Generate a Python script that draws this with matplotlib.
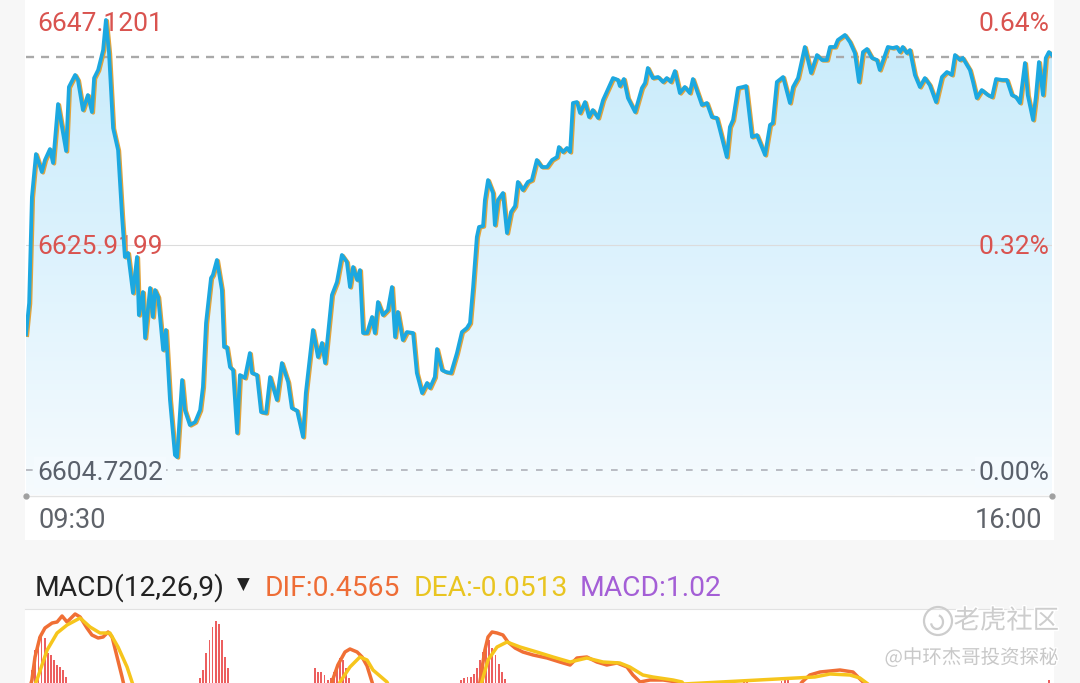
import numpy as np
import matplotlib
matplotlib.use("Agg")
import matplotlib.pyplot as plt
from matplotlib.patches import Rectangle, Polygon, Ellipse, Arc
from matplotlib.lines import Line2D
from matplotlib.transforms import blended_transform_factory, offset_copy
from matplotlib.colors import LinearSegmentedColormap
import matplotlib.patheffects as pe

plt.rcParams['lines.scale_dashes'] = False

# ---------------- data ----------------
minutes = [0.0, 1.0, 1.9, 3.2, 5.1, 6.1, 7.7, 8.7, 10.3, 12.9, 13.8, 15.8, 16.7, 18.3, 19.9, 21.2, 21.9,
           23.2, 24.8, 25.7, 26.7, 28.0, 29.6, 30.9, 31.8, 32.8, 34.4, 35.7, 36.3, 37.6, 38.3, 39.9, 40.8,
           41.5, 42.5, 44.1, 45.0, 46.3, 47.9, 48.6, 50.2, 51.1, 52.7, 54.4, 56.0, 56.9, 57.9, 59.5, 60.1,
           61.4, 63.0, 63.7, 64.6, 65.6, 66.6, 67.9, 68.8, 70.4, 72.0, 72.7, 74.3, 75.6, 77.2, 78.5, 80.7,
           82.3, 84.3, 85.5, 87.2, 89.1, 90.0, 92.3, 93.9, 95.2, 96.2, 98.4, 100.0, 101.6, 103.2, 104.2,
           105.2, 106.5, 107.4, 108.4, 109.7, 111.3, 112.2, 113.2, 114.8, 116.4, 117.7, 118.7, 119.6, 121.2,
           122.5, 124.5, 125.7, 127.4, 129.0, 129.9, 131.5, 132.2, 133.8, 135.1, 136.7, 138.6, 140.2, 141.8,
           142.8, 143.8, 145.0, 145.7, 147.0, 147.6, 148.6, 150.2, 150.8, 151.8, 153.4, 154.7, 156.0, 157.3,
           158.2, 159.8, 161.4, 162.7, 164.3, 165.9, 167.6, 169.2, 170.8, 171.4, 172.7, 174.0, 175.0, 175.9,
           177.2, 178.2, 179.8, 181.1, 182.3, 184.0, 185.6, 187.8, 188.8, 190.4, 191.0, 192.3, 193.6, 195.9,
           198.1, 199.1, 200.0, 201.6, 203.3, 204.9, 206.1, 207.4, 208.7, 210.3, 211.9, 213.5, 214.5, 217.4,
           219.0, 220.6, 222.2, 223.2, 225.4, 226.4, 227.4, 229.0, 230.6, 231.6, 233.5, 235.1, 237.7, 239.3,
           240.2, 241.5, 243.5, 245.7, 246.7, 248.3, 250.5, 252.5, 254.4, 256.0, 257.6, 258.6, 260.2, 261.1,
           263.4, 265.0, 266.6, 267.9, 269.2, 270.5, 272.1, 273.7, 274.6, 277.2, 278.8, 280.1, 281.1, 282.0,
           283.3, 284.3, 285.9, 287.5, 289.1, 290.7, 292.7, 294.6, 296.2, 297.8, 298.8, 300.4, 301.3, 303.6,
           304.6, 305.8, 307.4, 309.4, 310.7, 312.0, 313.9, 315.5, 317.1, 318.4, 319.7, 321.3, 322.2, 323.9,
           324.8, 325.8, 327.1, 328.0, 329.0, 330.0]
prices = [6617.50, 6620.45, 6630.44, 6634.49, 6632.80, 6633.93, 6634.96, 6633.65, 6639.20, 6634.78, 6640.81,
          6641.94, 6641.47, 6638.64, 6640.05, 6638.45, 6641.65, 6642.41, 6644.29, 6647.12, 6644.01, 6636.94,
          6634.87, 6628.56, 6624.79, 6625.17, 6621.40, 6624.79, 6619.32, 6621.49, 6617.16, 6621.87, 6619.14,
          6621.68, 6621.02, 6616.03, 6617.91, 6611.32, 6606.13, 6605.94, 6613.20, 6610.37, 6608.96, 6609.24,
          6610.37, 6612.54, 6618.57, 6622.81, 6623.09, 6624.51, 6621.68, 6616.31, 6616.31, 6614.42, 6614.14,
          6608.21, 6613.67, 6613.39, 6615.74, 6613.86, 6613.67, 6610.18, 6610.09, 6613.48, 6611.32, 6614.80,
          6613.01, 6610.56, 6610.30, 6607.83, 6611.97, 6617.91, 6615.37, 6616.69, 6614.80, 6621.21, 6622.43,
          6624.98, 6624.32, 6621.96, 6623.85, 6622.62, 6623.56, 6617.63, 6617.63, 6619.14, 6617.63, 6620.55,
          6619.32, 6619.80, 6621.96, 6617.25, 6619.61, 6616.97, 6617.72, 6617.63, 6613.86, 6611.97, 6612.92,
          6612.45, 6613.48, 6616.12, 6614.14, 6613.95, 6613.86, 6615.74, 6617.72, 6618.10, 6618.57, 6621.96,
          6626.67, 6627.62, 6627.71, 6630.16, 6632.04, 6630.82, 6627.80, 6630.16, 6630.82, 6627.05, 6629.03,
          6629.59, 6631.86, 6631.10, 6631.86, 6632.04, 6633.93, 6633.27, 6633.27, 6633.93, 6634.21, 6635.15,
          6634.68, 6635.06, 6634.68, 6639.30, 6639.39, 6638.36, 6639.39, 6637.98, 6638.64, 6637.89, 6639.58,
          6640.99, 6641.65, 6641.47, 6640.90, 6641.56, 6639.77, 6638.45, 6640.71, 6641.18, 6642.60, 6641.65,
          6641.75, 6641.28, 6641.65, 6641.28, 6642.31, 6640.24, 6640.81, 6640.24, 6641.56, 6639.11, 6639.30,
          6637.98, 6637.89, 6636.76, 6634.21, 6637.04, 6637.70, 6640.71, 6640.81, 6640.90, 6636.10, 6636.28,
          6634.40, 6637.23, 6637.41, 6641.28, 6641.75, 6639.30, 6640.81, 6641.65, 6644.58, 6642.13, 6643.82,
          6643.35, 6643.35, 6644.58, 6644.58, 6645.23, 6645.71, 6645.05, 6644.01, 6641.28, 6644.10, 6644.39,
          6643.54, 6643.35, 6642.41, 6644.58, 6644.48, 6644.58, 6644.10, 6644.58, 6644.01, 6644.29, 6641.94,
          6640.81, 6641.65, 6640.99, 6639.39, 6641.75, 6642.22, 6641.94, 6643.82, 6643.35, 6643.54, 6642.41,
          6641.28, 6639.77, 6640.52, 6640.05, 6639.86, 6641.56, 6641.47, 6641.47, 6640.05, 6639.86, 6639.30,
          6643.07, 6640.05, 6637.70, 6639.86, 6643.16, 6640.05, 6643.54, 6644.10, 6643.82]

price_levels = [6647.1201, 6625.9199, 6604.7202]
prev_close = 6604.7202
ref_line = 6643.63
time_labels = ["09:30", "16:00"]
session_minutes = 330

# MACD panel (only the top of the panel is visible)
dif_x = [0.0, 1.9, 2.9, 4.5, 6.1, 8.4, 10.0, 11.6, 13.2, 15.8, 17.4, 19.6, 21.2, 23.2, 24.8, 26.4, 27.7,
         29.3, 30.9, 32.5, 96.5, 98.4, 100.3, 102.6, 104.2, 106.5, 108.1, 109.7, 111.3, 112.9, 144.4,
         146.0, 147.6, 148.6, 149.9, 151.5, 153.4, 155.0, 157.3, 159.8, 163.1, 167.6, 171.7, 175.0, 177.2,
         180.4, 183.6, 186.8, 190.1, 193.3, 195.2, 197.5, 200.7, 204.9, 209.4, 211.9, 247.3, 249.6, 252.1,
         255.4, 261.8, 266.0, 269.2, 271.4, 330.0]
dif_v = [1.0, 2.15, 3.3, 4.3, 4.75, 5.0, 5.05, 5.35, 5.05, 5.45, 5.3, 4.75, 4.4, 4.25, 4.3, 4.55, 4.3,
         3.3, 2.3, 1.2, 1.2, 2.05, 2.9, 3.55, 3.7, 3.55, 3.3, 2.85, 2.05, 1.2, 1.2,
         2.05, 3.65, 4.3, 4.55, 4.5, 4.4, 4.05, 3.75, 3.55, 3.4, 3.25, 3.05, 2.9, 3.25,
         3.3, 3.05, 2.9, 3.0, 2.8, 2.4, 2.05, 2.15, 2.15, 2.05, 1.5, 1.5, 2.05, 2.4,
         2.55, 2.65, 2.55, 2.05, 1.5, 1.2]
dea_x = [0.0, 3.5, 6.8, 10.0, 13.2, 17.4, 20.6, 23.8, 27.0, 29.6, 32.5, 34.1, 36.0, 99.1, 101.0, 104.2,
         107.4, 109.7, 111.6, 116.1, 118.7, 144.7, 146.6, 148.6, 151.5, 154.7, 158.9, 164.3, 169.5, 175.0,
         180.4, 185.6, 191.0, 194.2, 198.4, 201.6, 208.1, 211.0, 213.5, 248.3, 250.5, 253.7, 258.6, 265.0,
         268.2, 270.8, 273.0, 330.0]
dea_v = [0.8, 2.15, 3.65, 4.5, 4.9, 5.25, 4.8, 4.5, 4.5, 3.8, 2.8, 2.05, 1.2, 1.2, 2.05, 2.8,
         3.3, 3.15, 2.65, 2.05, 1.2, 1.2, 2.05, 3.15, 3.8, 4.05, 3.8, 3.55, 3.3, 3.05,
         3.25, 3.05, 3.0, 2.8, 2.4, 2.3, 2.15, 2.05, 1.5, 1.5, 1.95, 2.3, 2.45, 2.4,
         2.25, 1.95, 1.5, 1.2]
hist_x = list(range(2, 14)) + list(range(56, 66)) + list(range(93, 105)) + list(range(140, 155)) + \
         [231, 232, 243, 244, 245, 329]
hist_v = [2.65, 3.65, 4.3, 4.4, 4.25, 3.5, 3.4, 3.15, 2.9, 2.8, 2.65, 2.3,
          2.25, 2.65, 3.5, 4.15, 4.8, 5.1, 4.95, 4.15, 3.3, 2.75,
          2.75, 2.55, 2.55, 2.4, 2.15, 2.25, 2.55, 2.9, 3.25, 3.15, 2.75, 2.25,
          2.15, 2.25, 2.3, 2.3, 2.45, 2.75, 3.15, 3.55, 3.9, 4.15, 3.75, 3.4, 2.95, 2.55, 2.2,
          2.1, 2.15, 2.1, 2.3, 2.15, 2.15]
macd_params = "MACD(12,26,9)"
dif_last, dea_last, macd_last = 0.4565, -0.0513, 1.02

# ---------------- figure ----------------
W, H = 1080, 683
fig = plt.figure(figsize=(W / 100, H / 100), dpi=100, facecolor="#f7f7f7")


def fx(px):
    return px / W


def fy(py):
    return 1 - py / H


# white panels (behind everything)
fig.patches.append(Rectangle((fx(25), fy(540)), fx(1054) - fx(25), fy(0) - fy(540),
                             transform=fig.transFigure, facecolor="white", edgecolor="none", zorder=-10))
fig.patches.append(Rectangle((fx(25), fy(684)), fx(1054) - fx(25), fy(609) - fy(684),
                             transform=fig.transFigure, facecolor="white", edgecolor="none", zorder=-10))
fig.add_artist(Line2D([fx(25), fx(1054)], [fy(608.5)] * 2, color="#e2e2e2", lw=0.8, zorder=-5))

# main price axes
ax = fig.add_axes([fx(26), fy(495), fx(1052) - fx(26), fy(0) - fy(495)])
ax.set_zorder(1)
scale = (price_levels[1] - price_levels[2]) / 225.0
ytop = prev_close + 470 * scale
ybot = prev_close - 25 * scale
ax.set_xlim(0, session_minutes)
ax.set_ylim(ybot, ytop)
ax.axis("off")
ax.patch.set_visible(False)

# gradient fill under the line
verts = [(minutes[0], ybot)] + list(zip(minutes, prices)) + [(minutes[-1], ybot)]
clip = Polygon(verts, closed=True, facecolor="none", edgecolor="none", transform=ax.transData)
ax.add_patch(clip)
cmap = LinearSegmentedColormap.from_list("g", ["#c6ebfb", "#dcf2fd", "#f6fbfe"])
grad = np.linspace(0, 1, 256).reshape(-1, 1)
im = ax.imshow(grad, extent=[0, session_minutes, ybot, ytop], origin="upper", aspect="auto",
               cmap=cmap, zorder=0.5, interpolation="bilinear")
im.set_clip_path(clip)
ax.set_xlim(0, session_minutes)
ax.set_ylim(ybot, ytop)

# reference lines
ax.axhline(price_levels[1], color="#dcdcdc", lw=0.8, zorder=1)
ax.axhline(ref_line, color="#a9a9a9", lw=1.7, linestyle=(0, (5.8, 5.0)), zorder=1)
ax.axhline(prev_close, color="#b9bcc3", lw=1.4, linestyle=(0, (4.8, 6.0)), zorder=1)

# price line (with warm under-line)
ax.plot(minutes, prices, color="#e2a43c", lw=2.7, zorder=3, solid_joinstyle="round",
        transform=offset_copy(ax.transData, fig=fig, x=1.3, y=-0.8, units="dots"))
ax.plot(minutes, prices, color="#1ca8e0", lw=2.7, zorder=4, solid_joinstyle="round")

# axis labels
red, dgray = "#d9534f", "#59606b"
trans = blended_transform_factory(fig.transFigure, ax.transData)
font = "Roboto"
for lvl in price_levels:
    col = red if lvl > prev_close + 1e-6 else dgray
    pct = (lvl / prev_close - 1) * 100
    bb = None if lvl > prev_close + 1e-6 else dict(boxstyle="square,pad=0.12", fc="#f4fafe", ec="none")
    yoff = 4.5 * scale if lvl == price_levels[0] else 2.5 * scale
    ax.text(fx(37), lvl - yoff, f"{lvl:.4f}", transform=trans, ha="left", va="center",
            fontsize=19, color=col, family=font, zorder=2.5, bbox=bb)
    ax.text(fx(1049), lvl - yoff, f"{pct:.2f}%", transform=trans, ha="right", va="center",
            fontsize=19, color=col, family=font, zorder=2.5, bbox=bb)

# x-axis baseline and time labels
fig.add_artist(Line2D([fx(26), fx(1052)], [fy(495.5)] * 2, color="#e3e3e3", lw=1.0))
fig.add_artist(Line2D([fx(26), fx(1052)], [fy(495.5)] * 2, color="#a0a0a0", lw=0,
                      marker="o", markersize=3.5))
tgray = "#5f636a"
fig.text(fx(38), fy(521), time_labels[0], ha="left", va="center", fontsize=19.5, color=tgray, family=font)
fig.text(fx(1042), fy(521), time_labels[1], ha="right", va="center", fontsize=19.5, color=tgray, family=font)

# MACD header
hy = fy(588)
fig.text(fx(35), hy, macd_params, ha="left", va="center", fontsize=20.3, color="#222222", family=font)
fig.text(fx(243), fy(585), "▼", ha="center", va="center", fontsize=12, color="#222222", family="DejaVu Sans")
fig.text(fx(265), hy, f"DIF:{dif_last:.4f}", ha="left", va="center", fontsize=20.3, color="#ee6d36", family=font)
fig.text(fx(414), hy, f"DEA:{dea_last:.4f}", ha="left", va="center", fontsize=20.3, color="#e9c521", family=font)
fig.text(fx(580), hy, f"MACD:{macd_last:.2f}", ha="left", va="center", fontsize=20.3, color="#a45fd6", family=font)

# MACD panel
ax2 = fig.add_axes([fx(26), fy(683), fx(1052) - fx(26), fy(609) - fy(683)])
ax2.set_zorder(1)
ax2.set_xlim(0, session_minutes)
ax2.set_ylim(2.0, 5.7)
ax2.axis("off")
ax2.patch.set_visible(False)
ax2.bar(hist_x, hist_v, width=0.6, color="#ec5f5f", zorder=1)
ax2.plot(dif_x, dif_v, color="#f06f35", lw=2.5, zorder=2)
ax2.plot(dea_x, dea_v, color="#f6c51c", lw=2.5, zorder=3)

# watermark
wm = "#cdcdcd"
fig.patches.append(Ellipse((fx(938), fy(621)), 28 / W, 28 / H, transform=fig.transFigure,
                           facecolor="none", edgecolor=wm, lw=1.6, zorder=5))
fig.patches.append(Arc((fx(937), fy(622)), 12 / W, 14 / H, theta1=200, theta2=80, transform=fig.transFigure,
                       edgecolor=wm, lw=1.6, zorder=5))
stroke = [pe.withStroke(linewidth=2, foreground="white")]
fig.text(fx(1059), fy(621), "老虎社区", ha="right", va="center", fontsize=19, color=wm,
         family=["Noto Sans CJK SC", "DejaVu Sans"], zorder=5, path_effects=stroke)
fig.text(fx(1059), fy(658), "@中环杰哥投资探秘", ha="right", va="center", fontsize=14, color="#c8c8c8",
         family=["Noto Sans CJK SC", "DejaVu Sans"], zorder=5, path_effects=stroke)

fig.savefig("out.png", dpi=100, facecolor=fig.get_facecolor())
